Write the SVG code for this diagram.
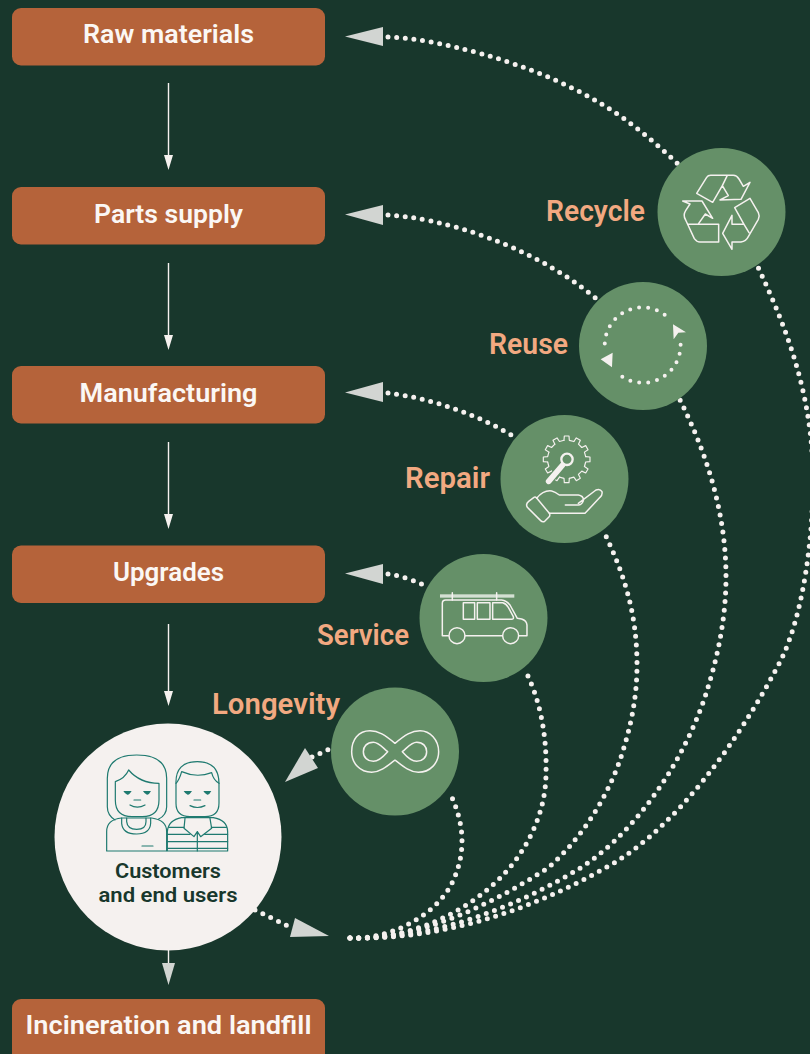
<svg xmlns="http://www.w3.org/2000/svg" xmlns:xlink="http://www.w3.org/1999/xlink" width="810" height="1054" viewBox="0 0 810 1054">
<style>
.box{fill:#b5633a}
.bt{font-family:"Roboto","Liberation Sans",sans-serif;font-weight:600;font-size:26px;fill:#fbf7f4;text-anchor:middle}
.lab{font-family:"Roboto","Liberation Sans",sans-serif;font-weight:600;font-size:29px;fill:#f2a981}
.cir{fill:#659068}
.dot{fill:none;stroke:#f5f1ef;stroke-width:5;stroke-linecap:round;stroke-dasharray:0 8.7}
.head{fill:#d2d5d2}
.wl{stroke:#f5f1ef;stroke-width:1.4;fill:none}
.wh{fill:#f5f1ef}
.ic{fill:none;stroke:#f5f1ef;stroke-width:4.5;stroke-linejoin:round;stroke-linecap:round}
.pp{fill:none;stroke:#1f7a70;stroke-width:3.6;stroke-linejoin:round;stroke-linecap:round}
.ppf{fill:#1f7a70}
</style>
<defs>
<path id="tooth" d="M-8,-57 L-7,-70 L7,-70 L8,-57 L21.6,-53.4"/>
</defs>
<rect width="810" height="1054" fill="#18372c"/>
<g id="connectors">
<path class="wl" d="M168.500,83V160M168.500,263V340M168.500,442V519M168.500,624V696"/>
<path class="wh" d="M164,155L168.500,170L173,155ZM164,335L168.500,350L173,335ZM164,514L168.500,529L173,514ZM164,691L168.500,706L173,691Z"/>
<path class="wl" d="M168.500,950V965"/>
<path class="head" d="M162,963L168.500,985L175,963Z"/>
<path class="dot" d="M388,37C430,38 530,60 603,105C630,121 656,143 680,166"/>
<path class="dot" d="M388,215C440,218 530,243 598,300"/>
<path class="dot" d="M388,393C430,398 480,415 516,438"/>
<path class="dot" d="M388,574C402,576 415,581 426,586"/>
<path class="dot" d="M312,757L332,748"/>
<path class="dot" d="M255,910L288,926"/>
<path class="dot" d="M350,938C385,940 430,920 450,887C458,872 462,857 462,841C462,824 457,808 450,793"/>
<path class="dot" d="M350,938C400,940 455,920 496,882C525,855 546,815 546,773C547,735 540,700 526,672"/>
<path class="dot" d="M350,938C420,940 490,905 548,868C580,840 606,800 620,760C630,730 637,700 637,665C637,615 625,575 603,530"/>
<path class="dot" d="M350,938C430,940 510,910 577,870C630,838 680,770 705,697C717,660 726,620 726,577C726,510 705,450 680,400"/>
<path class="dot" d="M350,938C440,940 530,912 614,863C675,826 735,748 781,660C803,615 813,540 813,480C813,400 790,335 757,265"/>
<path class="head" d="M345,36.500L383,27L383,46Z"/>
<path class="head" d="M345,214.500L383,205L383,225Z"/>
<path class="head" d="M345,392.500L383,382L383,402Z"/>
<path class="head" d="M345,573.500L383,564L383,584Z"/>
<path class="head" d="M285,782L305,748L318,768Z"/>
<path class="head" d="M329,936L295,918L290,937Z"/>
</g>
<g id="raw-materials"><rect class="box" x="12" y="8" width="313" height="57.500" rx="9"/><text class="bt" x="168.500" y="43" textLength="171" lengthAdjust="spacingAndGlyphs">Raw materials</text></g>
<g id="parts-supply"><rect class="box" x="12" y="187" width="313" height="57.500" rx="9"/><text class="bt" x="168.500" y="223" textLength="149" lengthAdjust="spacingAndGlyphs">Parts supply</text></g>
<g id="manufacturing"><rect class="box" x="12" y="366" width="313" height="57.500" rx="9"/><text class="bt" x="168.500" y="402" textLength="178" lengthAdjust="spacingAndGlyphs">Manufacturing</text></g>
<g id="upgrades"><rect class="box" x="12" y="545.500" width="313" height="57.500" rx="9"/><text class="bt" x="168.500" y="581" textLength="111" lengthAdjust="spacingAndGlyphs">Upgrades</text></g>
<g id="incineration"><rect class="box" x="12" y="999" width="313" height="70" rx="9"/><text class="bt" x="168.500" y="1034" textLength="286" lengthAdjust="spacingAndGlyphs">Incineration and landfill</text></g>
<g id="recycle">
<circle class="cir" cx="721.500" cy="212" r="64"/>
<text class="lab" x="546" y="221" textLength="99" lengthAdjust="spacingAndGlyphs">Recycle</text>
<g transform="translate(640,140) scale(.3333)" class="ic">
<path d="M218,187L170,160L200,112Q204,106 212,106L280,106Q290,106 297,117L310,139L330,127L303,178L240,180L265,167L247,137L218,187M262,106L247,137"/>
<path d="M284,203L330,175L355,218Q360,228 355,238L325,290Q318,304 303,306L276,306L276,328L248,280L276,226L276,253L312,253L284,203M312,253L327,278"/>
<path d="M128,183L186,183L218,235L196,222L174,253L236,253L236,306L180,306Q170,306 163,296L137,240Q128,226 137,212L150,192ZM145,253L174,253"/>
</g>
</g>
<g id="reuse">
<circle class="cir" cx="643" cy="346" r="64"/>
<text class="lab" x="489" y="354" textLength="79" lengthAdjust="spacingAndGlyphs">Reuse</text>
<g transform="translate(490,280) scale(.3333)">
<path d="M524,104A113,113 0 0 0 346,215M397,290A113,113 0 0 0 570,175" fill="none" stroke="#f5f1ef" stroke-width="12" stroke-linecap="round" stroke-dasharray="0 27"/>
<path class="wh" d="M332,238L368,218L366,262ZM549,133L588,157L565,158L551,178Z"/>
</g>
</g>
<g id="repair">
<circle class="cir" cx="564.500" cy="479" r="64"/>
<text class="lab" x="405" y="488" textLength="85" lengthAdjust="spacingAndGlyphs">Repair</text>
<g transform="translate(490,280) scale(.3333)" class="ic">
<g transform="translate(230,538)" stroke-width="3.500">
<use xlink:href="#tooth" href="#tooth"/>
<use xlink:href="#tooth" href="#tooth" transform="rotate(30)"/>
<use xlink:href="#tooth" href="#tooth" transform="rotate(60)"/>
<use xlink:href="#tooth" href="#tooth" transform="rotate(90)"/>
<use xlink:href="#tooth" href="#tooth" transform="rotate(120)"/>
<use xlink:href="#tooth" href="#tooth" transform="rotate(150)"/>
<use xlink:href="#tooth" href="#tooth" transform="rotate(180)"/>
<use xlink:href="#tooth" href="#tooth" transform="rotate(210)"/>
<use xlink:href="#tooth" href="#tooth" transform="rotate(240)"/>
<use xlink:href="#tooth" href="#tooth" transform="rotate(270)"/>
<use xlink:href="#tooth" href="#tooth" transform="rotate(300)"/>
<use xlink:href="#tooth" href="#tooth" transform="rotate(330)"/>
</g>
<path d="M176,604L218,555" stroke-width="24" stroke="#659068"/>
<path d="M176,604L218,555" stroke-width="17"/>
<circle cx="231" cy="538" r="17" fill="#659068" stroke-width="7"/>
<path d="M116,664L132,652Q136,650 140,654L178,700Q182,706 176,712L164,724Q158,728 152,722L112,682Q106,672 116,664Z"/>
<path d="M140,655Q160,630 185,633Q195,635 208,645L265,645Q282,648 280,662Q275,675 265,675L226,675M265,670L318,630Q330,625 336,635Q338,645 330,652L285,700L178,700"/>
</g>
</g>
<g id="service">
<circle class="cir" cx="483.500" cy="618" r="64"/>
<text class="lab" x="317" y="645" textLength="92" lengthAdjust="spacingAndGlyphs">Service</text>
<g transform="translate(320,550) scale(.3333)" class="ic">
<rect x="360" y="133" width="223" height="10" fill="#d4e0d3" stroke="none"/>
<path d="M397,128V150M530,128V150"/>
<path d="M385,257L367,257L367,160Q367,150 377,150L545,150Q560,152 570,165L592,205L605,207Q620,212 621,225L621,257L598,257M436,257L547,257"/>
<circle cx="411" cy="257" r="24"/><circle cx="572" cy="257" r="24"/>
<rect x="430" y="158" width="34" height="50"/><rect x="472" y="158" width="38" height="50"/>
<path d="M518,158L548,158Q558,160 565,172L580,200Q582,208 575,208L518,208Z"/>
</g>
</g>
<g id="longevity">
<circle class="cir" cx="395" cy="751.500" r="64"/>
<text class="lab" x="212" y="714" textLength="128" lengthAdjust="spacingAndGlyphs">Longevity</text>
<g transform="translate(320,550) scale(.3333)" class="ic">
<path d="M225,580C195,555 175,542 150,542C115,542 95,570 95,605C95,640 120,667 155,667C180,667 200,650 225,630C250,650 270,667 295,667C330,667 356,640 356,605C356,570 330,542 300,542C275,542 255,555 225,580Z"/>
<path d="M203,605C185,590 175,577 160,577C140,577 130,590 130,605C130,622 143,634 160,634C175,634 190,620 203,605Z"/>
<path d="M247,605C265,590 275,577 290,577C310,577 320,590 320,605C320,622 307,634 290,634C275,634 260,620 247,605Z"/>
</g>
</g>
<g id="customers">
<circle cx="168" cy="837" r="113.500" fill="#f5f1ef"/>
<g transform="translate(50,720) scale(.3333)" class="pp">
<path d="M195,300Q172,285 172,260L172,175Q172,105 260,105Q350,105 350,175L350,260Q350,285 325,298"/>
<path d="M196,185L196,240Q196,290 246,290L277,290Q327,290 327,240L327,190Q270,190 236,150Q225,175 196,185Z"/>
<path class="ppf" stroke="none" d="M220,213L245,213Q238,225 232,224Q225,222 220,213ZM279,213L303,213Q297,225 291,224Q284,222 279,213Z"/>
<path d="M252,240L272,240M240,255Q262,268 285,255"/>
<path d="M170,393L170,335Q170,298 215,294L305,294Q350,300 350,335L350,393Z"/>
<path d="M215,294L215,310Q218,342 260,342Q300,342 302,310L302,294M230,294L230,305Q232,328 260,328Q288,328 288,305L288,294M276,378L309,378"/>
<path d="M378,190Q376,125 442,125Q507,125 507,190L507,250Q507,290 465,290L420,290Q378,290 378,250Z"/>
<path d="M378,190Q388,180 395,155Q440,175 485,158Q490,180 507,190"/>
<path class="ppf" stroke="none" d="M401,213L426,213Q419,225 413,224Q406,222 401,213ZM460,213L484,213Q478,225 472,224Q465,222 460,213Z"/>
<path d="M432,240L452,240M420,257Q442,268 465,257"/>
<path d="M352,393L352,335Q355,300 395,293L490,293Q532,300 533,335L533,393Z"/>
<path d="M405,295L402,325L432,350L442,335L452,350L485,325L480,295M442,335L442,393"/>
<path d="M356,322H402M484,322H530M352,343H420M464,343H533M352,365H533M352,385H533"/>
</g>
<text x="168" y="878" text-anchor="middle" font-family="Roboto,'Liberation Sans',sans-serif" font-weight="600" font-size="21" fill="#18372c" textLength="106" lengthAdjust="spacingAndGlyphs">Customers</text>
<text x="168" y="902" text-anchor="middle" font-family="Roboto,'Liberation Sans',sans-serif" font-weight="600" font-size="21" fill="#18372c" textLength="139" lengthAdjust="spacingAndGlyphs">and end users</text>
</g>
</svg>
